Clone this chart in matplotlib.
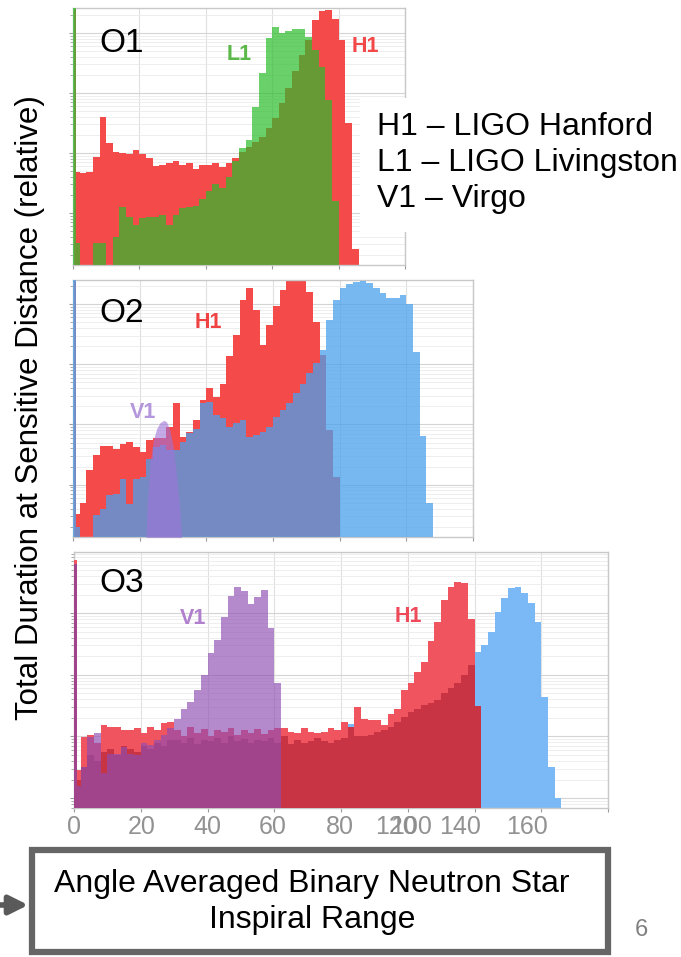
import numpy as np
import matplotlib
matplotlib.use('Agg')
import matplotlib.pyplot as plt
from matplotlib.patches import Rectangle
from matplotlib.ticker import LogLocator, NullFormatter

plt.rcParams['font.family'] = ['Liberation Sans', 'DejaVu Sans']

# log10 of relative duration per range bin.
# first value = 0-1 Mpc bin, second = 1-2 Mpc, then 2 Mpc wide bins
o1_h1 = [3.42, 0.69, 0.66, 0.69, 0.94, 1.6, 1.16, 1.02, 1.0, 0.98, 1.05, 0.98, 0.91, 0.78, 0.8,
         0.83, 0.87, 0.8, 0.84, 0.74, 0.8, 0.8, 0.83, 0.77, 0.84, 0.91, 1.02, 1.1, 1.19, 1.27,
         1.41, 1.58, 1.83, 2.08, 2.36, 2.63, 2.88, 3.22, 3.36, 3.38, 3.24, 2.88, 1.5, -0.6]
o1_l1 = [3.42, -0.5, -3, -3, -0.5, -0.5, -3, -0.4, 0.1, -0.06, -0.2, -0.09, -0.06, -0.06, -0.03,
         -0.2, -0.03, 0.08, 0.1, 0.12, 0.24, 0.36, 0.49, 0.41, 0.6, 0.87, 1.08, 1.22, 1.77, 2.33,
         2.91, 3.1, 3.0, 3.04, 3.07, 3.06, 2.93, 2.72, 2.44, 1.88, 0.2]

o2_h1 = [3.4, -0.48, -0.3, 0.24, 0.49, 0.64, 0.64, 0.6, 0.68, 0.71, 0.63, 0.54, 0.74, 0.77, 0.77,
         0.96, 1.35, 0.79, 0.88, 1.07, 1.4, 1.6, 1.46, 1.68, 2.13, 2.49, 3.07, 3.26, 2.9, 2.32,
         2.66, 2.97, 3.24, 3.42, 3.42, 3.42, 3.2, 2.7, 2.15, 0.9, 0.13]
o2_l1 = [3.4, -0.7, -3, -3, -0.51, -0.4, -0.18, -0.15, 0.1, -0.32, 0.1, 0.13, 0.42, 0.63, 0.66,
         0.57, 0.58, 0.71, 0.85, 0.93, 1.35, 1.38, 1.16, 1.1, 0.96, 1.02, 1.07, 0.79, 0.82, 0.88,
         0.96, 1.13, 1.24, 1.35, 1.52, 1.68, 1.85, 2.02, 2.24, 2.74, 3.07, 3.27, 3.34, 3.37, 3.39,
         3.35, 3.27, 3.18, 3.1, 3.1, 3.15, 3.0, 2.2, 0.8, -0.3]
# V1 in O2 is a smooth bump: range (Mpc) and log10 duration
o2_v1_x = [21.9, 22.3, 23.1, 24.1, 25.1, 26.1, 27.3, 28.1, 29.1, 30.1, 31.1, 31.9, 32.6]
o2_v1 = [-0.9, -0.32, 0.35, 0.74, 0.93, 1.03, 1.07, 1.04, 0.9, 0.62, 0.13, -0.32, -0.9]

o3_h1 = [3.86, 0.45, 0.99, 1.02, 0.9, 1.18, 1.16, 1.16, 1.1, 1.11, 1.13, 1.05, 1.16, 1.1, 1.21, 1.24,
         1.1, 1.0, 1.15, 1.05, 1.12, 1.0, 1.1, 1.08, 1.14, 1.02, 1.1, 1.06, 1.12, 1.04, 1.1,
         1.13, 1.13, 1.08, 1.05, 1.13, 1.08, 1.06, 1.08, 1.13, 1.1, 1.23, 1.16, 1.48, 1.29, 1.26,
         1.26, 1.18, 1.37, 1.45, 1.75, 1.86, 2.05, 2.21, 2.54, 2.86, 3.21, 3.43, 3.5, 3.48, 2.9, 1.5]
o3_l1 = [3.8, 0.3, 0.5, 0.7, 0.6, 0.75, 0.8, 0.7, 0.85, 0.8, 0.75, 0.85, 0.8, 0.9, 0.85, 0.95,
         0.95, 0.9, 0.98, 0.88, 0.95, 0.92, 0.97, 0.9, 1.0, 0.93, 0.96, 0.9, 0.95, 0.92, 0.97,
         0.9, 1.0, 0.88, 0.95, 0.9, 0.93, 0.97, 0.92, 0.9, 0.94, 0.97, 1.2, 1.0, 1.0, 1.02, 1.08,
         1.1, 1.16, 1.24, 1.32, 1.4, 1.45, 1.51, 1.54, 1.59, 1.7, 1.78, 1.86, 2.0, 2.16, 2.37,
         2.48, 2.7, 3.02, 3.25, 3.4, 3.42, 3.32, 3.16, 2.86, 1.64, 0.51, 0.0]
o3_v1 = [3.8, 0.2, 0.51, 0.99, 1.05, 0.4, 0.72, 0.72, 0.83, 0.72, 0.7, 0.89, 0.86, 0.94, 1.02,
         1.13, 1.29, 1.45, 1.56, 1.75, 2.0, 2.35, 2.56, 2.94, 3.28, 3.43, 3.35, 3.15, 3.26, 3.37,
         2.75, 1.86]

# O3 tick labels as they appear on the slide (the label strip is misaligned there)
o3_lab_pos = [0, 20.4, 40.1, 59.6, 79.6, 96.4, 100.9, 115.6, 135.6]
o3_lab_txt = ['0', '20', '40', '60', '80', '120', '100', '140', '160']

RED = '#f44a4a'
FLOOR = 1e-3
W, H = 681, 957


def fx(x):
    return x / W


def fy(y):
    return 1 - y / H


def edges(vals):
    return np.r_[0, 1, 2 * np.arange(1, len(vals))]


def hist(ax, vals, **kw):
    ax.stairs(10.0 ** np.array(vals), edges(vals), fill=True, baseline=FLOOR, lw=0, **kw)


def style(ax, xmax, ylo, yhi):
    ax.set_xlim(0, xmax)
    ax.set_yscale('log')
    ax.set_ylim(10 ** ylo, 10 ** yhi)
    ax.yaxis.set_major_locator(LogLocator(base=10, numticks=10))
    ax.yaxis.set_minor_locator(LogLocator(base=10, subs=np.arange(2, 10), numticks=20))
    ax.yaxis.set_minor_formatter(NullFormatter())
    ax.set_xticks(np.arange(0, xmax + 1, 20))
    ax.set_axisbelow(True)
    ax.grid(True, which='major', axis='y', color='#d4d4d4', lw=0.8)
    ax.grid(True, which='minor', axis='y', color='#ebebeb', lw=0.6)
    ax.grid(True, which='major', axis='x', color='#e0e0e0', lw=0.8)
    for s in ax.spines.values():
        s.set_color('#c8c8c8')
        s.set_linewidth(1)
    ax.tick_params(axis='both', which='both', labelleft=False, labelbottom=False,
                   direction='out', color='#9a9a9a')
    ax.tick_params(which='major', length=3)
    ax.tick_params(which='minor', length=2)


fig = plt.figure(figsize=(6.81, 9.57), dpi=100)

# ---- O1
ax1 = fig.add_axes([fx(73), fy(265), (405 - 73) / W, 257 / H])
style(ax1, 100, -0.867, 3.417)
hist(ax1, o1_h1, color=RED, zorder=2)
hist(ax1, o1_l1, color=(0.17, 0.74, 0.17), alpha=0.7, zorder=3)

# ---- O2
ax2 = fig.add_axes([fx(73), fy(537), 400 / W, 257 / H])
style(ax2, 120, -0.87, 3.4)
hist(ax2, o2_h1, color=RED, zorder=2)
hist(ax2, o2_l1, color=(0.29, 0.63, 0.93), alpha=0.75, zorder=3)
ax2.fill_between(o2_v1_x, 10.0 ** np.array(o2_v1), FLOOR, color=(0.62, 0.45, 0.85),
                 alpha=0.6, lw=0, zorder=4)

# ---- O3
ax3 = fig.add_axes([fx(74), fy(808), 534 / W, 256 / H])
style(ax3, 160, -0.16, 3.99)
hist(ax3, o3_l1, color='#7ab8f6', zorder=2)
hist(ax3, o3_h1, color='#f0545f', zorder=3)
hist(ax3, np.minimum(o3_h1, o3_l1[:len(o3_h1)]).tolist(), color='#c83444', zorder=3.5)
hist(ax3, o3_v1, color=(0.56, 0.30, 0.70), alpha=0.66, zorder=4)
for pos, txt in zip(o3_lab_pos, o3_lab_txt):
    ax3.text(pos, -0.074, txt, transform=ax3.get_xaxis_transform(), fontsize=18,
             color='#8c8c8c', ha='center', va='center', alpha=0.95)

# panel names and detector labels
for name, y in [('O1', 43), ('O2', 314), ('O3', 584)]:
    fig.text(fx(99), fy(y), name, fontsize=24, va='center', ha='left', zorder=7)
det_labels = [('L1', 227, 55, '#5cb848'), ('H1', 352, 46, '#f24848'),
              ('H1', 195, 322, '#f04242'), ('V1', 130, 412, '#b496dc'),
              ('V1', 180, 618, '#b07fce'), ('H1', 395, 617, '#ef4a5a')]
for t, x, y, c in det_labels:
    fig.text(fx(x), fy(y), t, fontsize=15.5, fontweight='bold', color=c,
             va='center', ha='left', zorder=7)
ax3.text(131.5, 10 ** 2.7, 'L1', fontsize=15.5, fontweight='bold', color='#7ab8f6',
         va='center', ha='left', zorder=1.5)

# legend block over the right of O1
fig.add_artist(Rectangle((fx(360), fy(232)), (W - 360) / W, 134 / H,
                         transform=fig.transFigure, facecolor='white', edgecolor='none', zorder=5))
for line, y in [('H1 – LIGO Hanford', 127), ('L1 – LIGO Livingston', 163), ('V1 – Virgo', 199)]:
    fig.text(fx(377), fy(y), line, fontsize=23, va='center', ha='left', zorder=6)

fig.text(fx(30), fy(408), 'Total Duration at Sensitive Distance (relative)', rotation=90,
         fontsize=22.5, va='center', ha='center')

# x-axis caption box with arrow
fig.add_artist(Rectangle((fx(32), fy(952)), (608 - 32) / W, (952 - 850) / H,
                         transform=fig.transFigure, facecolor='white', edgecolor='#666666',
                         lw=4.5, zorder=5))
fig.text(fx(312), fy(884), 'Angle Averaged Binary Neutron Star', fontsize=23,
         ha='center', va='center', zorder=6)
fig.text(fx(312), fy(920), 'Inspiral Range', fontsize=23, ha='center', va='center', zorder=6)
fig.text(fx(641), fy(930), '6', fontsize=17, color='#808080', ha='center', va='center')
plt.annotate('', xy=(31, H - 905), xytext=(-8, H - 905), xycoords='figure pixels',
             textcoords='figure pixels',
             arrowprops=dict(arrowstyle='-|>', color='#5a5a5a', lw=4, mutation_scale=28))

fig.savefig('out.png', dpi=100)
